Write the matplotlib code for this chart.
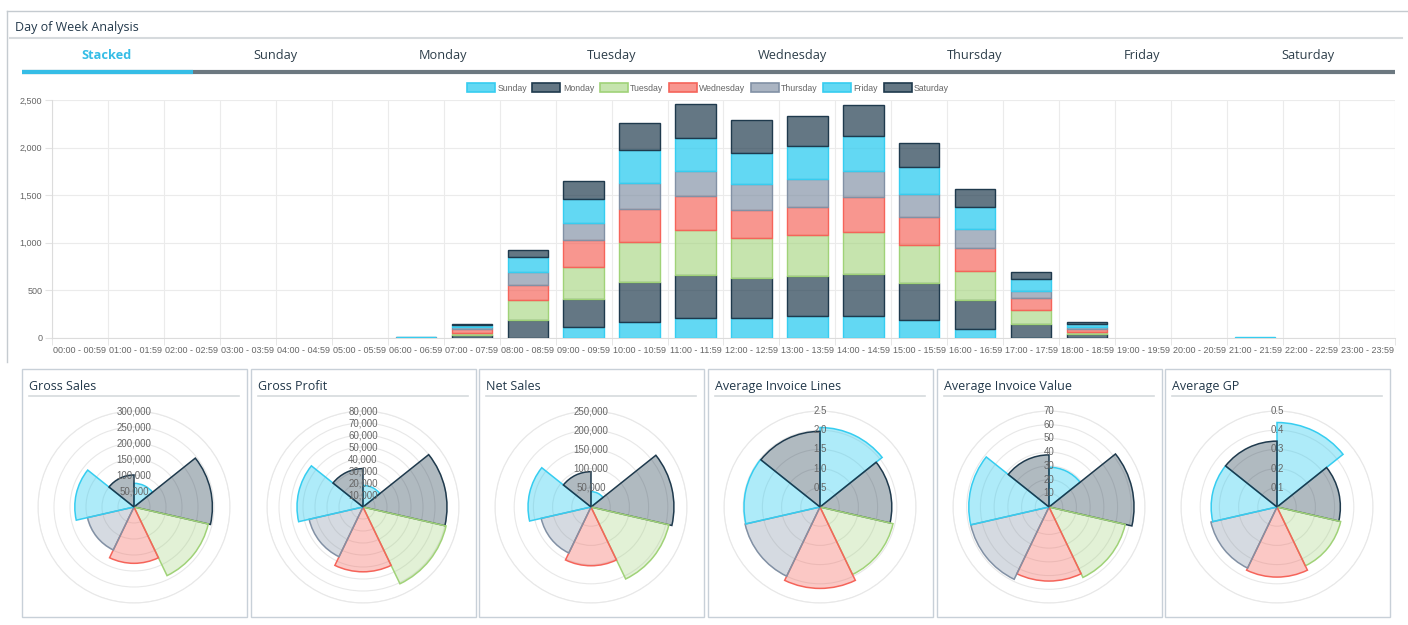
import numpy as np
import matplotlib
matplotlib.use("Agg")
import matplotlib.pyplot as plt
from matplotlib.patches import Rectangle
from matplotlib.ticker import FuncFormatter

W, H = 1408, 625

# ---- data ----
days = ["Sunday", "Monday", "Tuesday", "Wednesday", "Thursday", "Friday", "Saturday"]
tabs = ["Stacked"] + days
hours = [f"{h:02d}:00 - {h:02d}:59" for h in range(24)]

# transactions per hour, one list per weekday
sunday    = [0, 0, 0, 0, 0, 0, 0,  3,   0, 112, 171, 206, 209, 234, 234, 192,  91,   3,  3, 0, 0, 0, 0, 0]
monday    = [0, 0, 0, 0, 0, 0, 0, 28, 192, 297, 412, 457, 422, 422, 436, 384, 304, 147, 35, 0, 0, 0, 0, 0]
tuesday   = [0, 0, 0, 0, 0, 0, 3, 26, 209, 342, 422, 475, 422, 422, 447, 398, 311, 147, 22, 0, 0, 0, 0, 0]
wednesday = [0, 0, 0, 0, 0, 0, 0, 40, 157, 279, 349, 353, 290, 297, 360, 297, 237, 119, 30, 0, 0, 0, 0, 0]
thursday  = [0, 0, 0, 0, 0, 0, 4, 20, 140, 175, 269, 258, 272, 290, 276, 241, 199,  80, 25, 0, 0, 3, 0, 0]
friday    = [0, 0, 0, 0, 0, 0, 4, 15, 157, 255, 356, 353, 332, 353, 366, 279, 237, 126, 33, 0, 0, 3, 0, 0]
saturday  = [0, 0, 0, 0, 0, 0, 0, 10,  66, 192, 283, 353, 346, 318, 325, 258, 185,  70, 20, 0, 0, 0, 0, 0]
hourly = [sunday, monday, tuesday, wednesday, thursday, friday, saturday]

# per-weekday totals / averages (Sunday .. Saturday)
gross_sales  = [74000, 245000, 238000, 176000, 149000, 185000, 100000]
gross_profit = [18000, 70000, 71000, 54000, 46000, 55000, 32000]
net_sales    = [40000, 216000, 208000, 153000, 133000, 164000, 92000]
avg_lines    = [2.07, 1.87, 1.95, 2.12, 2.0, 1.98, 1.97]
avg_value    = [29, 62, 57, 54, 58.5, 58.5, 38]
avg_gp       = [0.44, 0.33, 0.34, 0.365, 0.353, 0.343, 0.343]

polar_titles = ["Gross Sales", "Gross Profit", "Net Sales",
                "Average Invoice Lines", "Average Invoice Value", "Average GP"]
polar_data = [gross_sales, gross_profit, net_sales, avg_lines, avg_value, avg_gp]
polar_ticks = [
    [50000, 100000, 150000, 200000, 250000, 300000],
    [10000, 20000, 30000, 40000, 50000, 60000, 70000, 80000],
    [50000, 100000, 150000, 200000, 250000],
    [0.5, 1.0, 1.5, 2.0, 2.5],
    [10, 20, 30, 40, 50, 60, 70],
    [0.1, 0.2, 0.3, 0.4, 0.5],
]

# ---- styles ----
cyan = (54/255, 205/255, 240/255)
navy = (31/255, 58/255, 77/255)
green = (160/255, 210/255, 120/255)
red = (245/255, 100/255, 90/255)
grey = (130/255, 145/255, 165/255)
base = [cyan, navy, green, red, grey, cyan, navy]
bar_alpha = [0.78, 0.69, 0.6, 0.68, 0.68, 0.78, 0.69]
polar_alpha = [0.4, 0.35, 0.3, 0.35, 0.33, 0.4, 0.35]
edge_cols = ["#36cdf0", "#1f3a4d", "#a0d278", "#f5645a", "#8291a5", "#36cdf0", "#1f3a4d"]

UI = "Open Sans"
CH = "Liberation Sans"
TXT = "#666666"


def px_box(left, top, width, height):
    return [left / W, 1 - (top + height) / H, width / W, height / H]


def ring_label(t):
    return f"{t:,}" if isinstance(t, int) else f"{t:.1f}"


fig = plt.figure(figsize=(W / 100, H / 100), dpi=100)
fig.patch.set_facecolor("white")

# page furniture drawn in pixel coordinates
bg = fig.add_axes([0, 0, 1, 1])
bg.set_xlim(0, W)
bg.set_ylim(H, 0)
bg.axis("off")

bg.plot([7, W], [11, 11], color="#c5cbd0", lw=1)
bg.plot([7, 7], [11, 362], color="#c5cbd0", lw=1)
bg.text(15, 27.5, "Day of Week Analysis", fontsize=9, family=UI, color="#22384a", va="center")
bg.plot([10, 1402], [37.5, 37.5], color="#d6dadd", lw=1.5)

tab_x = [107, 275, 443, 612, 792, 975, 1142, 1308]
for i, (t, x) in enumerate(zip(tabs, tab_x)):
    bg.text(x, 55.5, t, fontsize=9.2, family=UI, ha="center", va="center",
            color="#35bde6" if i == 0 else "#2d3e4a",
            fontweight="bold" if i == 0 else "normal")
bg.plot([22, 1395], [71.5, 71.5], color="#6c7880", lw=3, solid_capstyle="butt")
bg.plot([22, 193], [71.5, 71.5], color="#35bde6", lw=3, solid_capstyle="butt")

# ---- stacked hourly bars ----
ax = fig.add_axes(px_box(52, 100, 1343, 238))
x = np.arange(len(hours))
bottom = np.zeros(len(hours))
handles = []
for i, (name, vals) in enumerate(zip(days, hourly)):
    vals = np.array(vals, dtype=float)
    fc = base[i] + (bar_alpha[i],)
    ax.bar(x, vals, width=0.72, bottom=bottom, color=fc, edgecolor=edge_cols[i],
           linewidth=np.where(vals > 0, 1.0, 0.0), label=name, zorder=3)
    handles.append(Rectangle((0, 0), 1, 1, facecolor=fc, edgecolor=edge_cols[i], lw=1.2))
    bottom += vals

ax.set_xlim(-0.5, 23.5)
ax.set_ylim(0, 2500)
ax.set_yticks(np.arange(0, 2501, 500))
ax.yaxis.set_major_formatter(FuncFormatter(lambda v, p: f"{int(v):,}"))
ax.set_xticks(x)
ax.set_xticklabels(hours)
ax.set_xticks(np.arange(-0.5, 24, 1), minor=True)
ax.tick_params(axis="x", which="major", length=0, pad=6, labelsize=6.5, labelcolor=TXT)
ax.tick_params(axis="x", which="minor", length=5, color="#e3e3e3")
ax.tick_params(axis="y", length=5, color="#e3e3e3", pad=2, labelsize=6.5, labelcolor=TXT)
for lab in ax.get_xticklabels() + ax.get_yticklabels():
    lab.set_family(CH)
ax.grid(axis="y", color="#ebebeb", lw=0.8, zorder=0)
ax.grid(axis="x", which="minor", color="#ebebeb", lw=0.8, zorder=0)
for s in ["top", "right"]:
    ax.spines[s].set_visible(False)
for s in ["left", "bottom"]:
    ax.spines[s].set_color("#dcdcdc")
    ax.spines[s].set_linewidth(0.8)

fig.legend(handles, days, loc="center", bbox_to_anchor=(708 / W, 1 - 88 / H), ncol=7,
           frameon=False, handlelength=3.2, handleheight=1.05, columnspacing=0.6,
           handletextpad=0.3, prop={"family": CH, "size": 6.3}, labelcolor=TXT)

# ---- polar area panels ----
panel_left = [22, 251, 479, 708, 937, 1165]
theta = np.arange(7) * 2 * np.pi / 7
for left, title, vals, ticks in zip(panel_left, polar_titles, polar_data, polar_ticks):
    bg.add_patch(Rectangle((left, 369), 225, 248, facecolor="none", edgecolor="#c8d0d8", lw=1))
    bg.text(left + 7, 386.5, title, fontsize=9, family=UI, color="#22384a", va="center")
    bg.plot([left + 7, left + 217], [395.5, 395.5], color="#d6dadd", lw=1.2)

    cx, cy, r = left + 112, 507, 96
    pax = fig.add_axes(px_box(cx - r, cy - r, 2 * r, 2 * r), projection="polar")
    pax.set_facecolor("none")
    pax.set_theta_zero_location("N")
    pax.set_theta_direction(-1)
    pax.bar(theta, vals, width=2 * np.pi / 7, align="edge",
            color=[b + (a,) for b, a in zip(base, polar_alpha)],
            edgecolor=edge_cols, linewidth=1.1, zorder=3)
    pax.set_ylim(0, ticks[-1])
    pax.set_yticks(ticks)
    pax.set_yticklabels([])
    pax.set_xticks([])
    pax.yaxis.grid(True, color="#e8e8e8", lw=0.8)
    pax.xaxis.grid(False)
    pax.spines["polar"].set_color("#e8e8e8")
    pax.spines["polar"].set_linewidth(0.8)
    for t in ticks:
        pax.text(0, t, ring_label(t), ha="center", va="center", fontsize=7, family=CH,
                 color=TXT, zorder=5)

fig.savefig("out.png", dpi=100)
